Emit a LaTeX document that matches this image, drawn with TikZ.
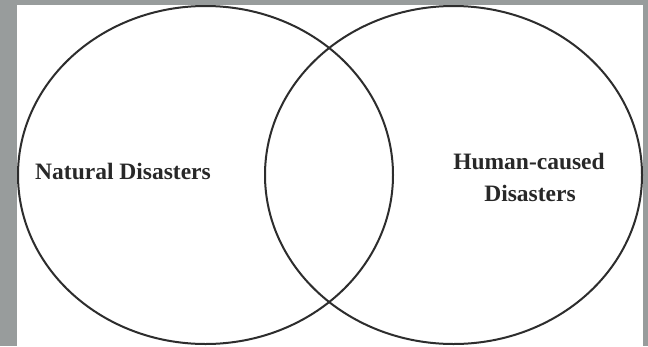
\documentclass[tikz,border=0pt]{standalone}
\usepackage{fontspec}
\setmainfont{Liberation Serif}
\definecolor{framegray}{RGB}{152,156,156}
\definecolor{linegray}{RGB}{45,45,45}
\definecolor{textgray}{RGB}{40,40,40}
\tikzset{
  setline/.style={draw=linegray, line width=2pt},
  label/.style={text=textgray, font=\bfseries\fontsize{23.5}{32}\selectfont, inner sep=0pt, align=center},
}
\begin{document}
\begin{tikzpicture}[x=1pt,y=-1pt]
\useasboundingbox (0,0) rectangle (648,346);
\fill[framegray] (0,0) rectangle (648,346);
\fill[white] (17,5) rectangle (643,346);
\begin{scope}
\clip (17,5) rectangle (643,346);
\draw[setline] (205.5,175) ellipse [x radius=187.5, y radius=169];
\draw[setline] (453.5,175) ellipse [x radius=188.5, y radius=169];
\end{scope}
\node[label, anchor=base] (nat) at (123,179.5) {Natural Disasters};
\node[label, anchor=base] (hum1) at (529,169) {Human-caused};
\node[label, anchor=base] (hum2) at (530,201) {Disasters};
\end{tikzpicture}
\end{document}
